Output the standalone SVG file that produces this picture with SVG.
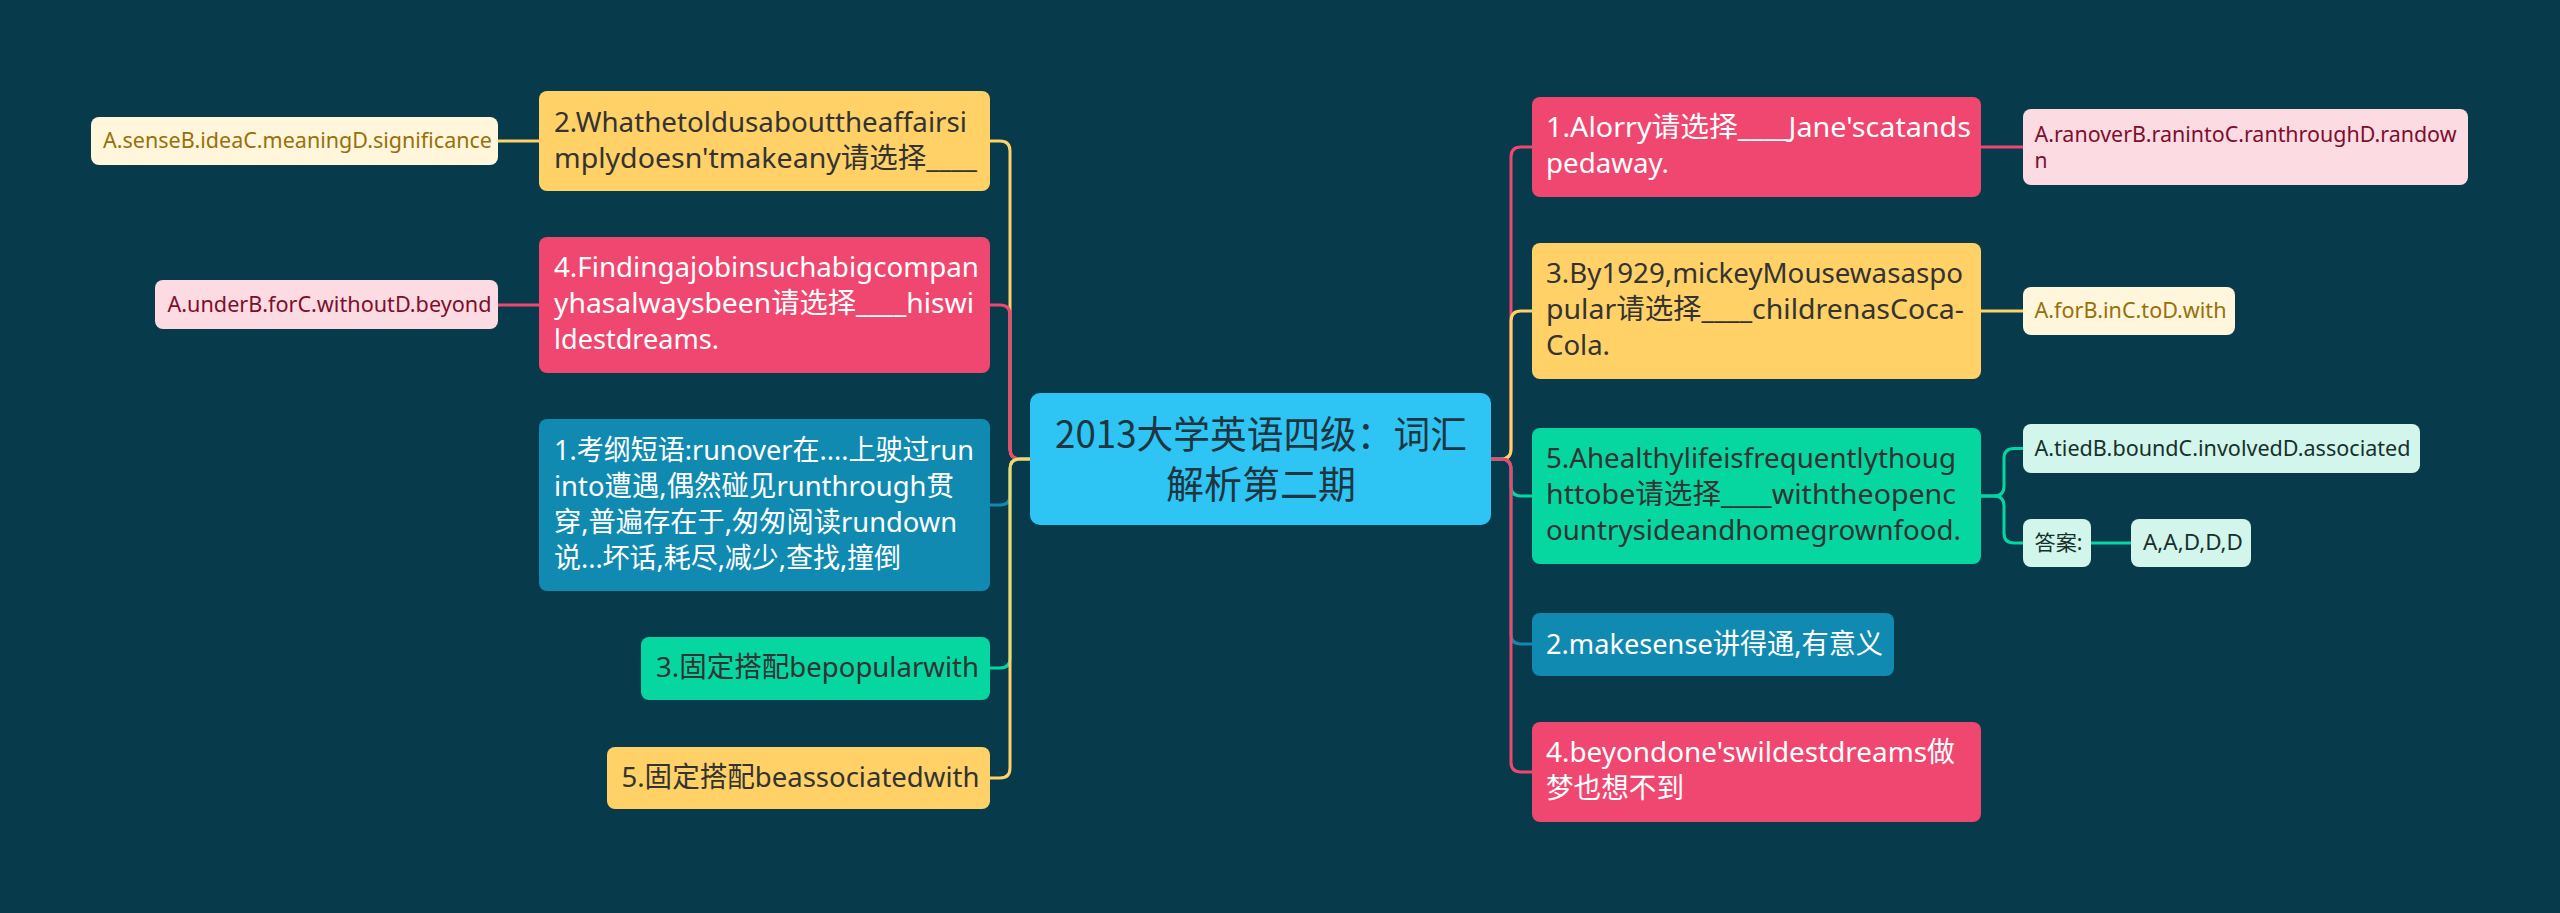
<svg xmlns="http://www.w3.org/2000/svg" width="2560" height="913" viewBox="0 0 2560 913">
<style>
.t{font-family:"Noto Sans","Noto Sans CJK SC",sans-serif;font-size:28px}
.s{font-family:"Noto Sans","Noto Sans CJK SC",sans-serif;font-size:21px}
.c{font-family:"Noto Sans CJK SC","Noto Sans",sans-serif;font-size:38px;fill:#1f3540}
.w{fill:#ffffff}
.d{fill:#333333}
.ln{fill:none;stroke-width:3;stroke-linecap:round}
.yl{stroke:#ffd166}.rd{stroke:#ef476f}.bl{stroke:#118ab2}.gr{stroke:#06d6a0}
.fy{fill:#ffd166}.fr{fill:#ef476f}.fb{fill:#118ab2}.fg{fill:#06d6a0}
.py{fill:#fff6dc}.pr{fill:#fcdbe3}.pg{fill:#d2f6ec}
.ty{fill:#98700a}.tr{fill:#7d0f2c}.tg{fill:#17302c}
</style>
<rect width="2560" height="913" fill="#073b4c"/>
<g id="connectors">
<path class="ln yl" d="M1030,459 H1020 Q1010,459 1010,449 V151 Q1010,141 1000,141 H990"/>
<path class="ln rd" d="M1030,459 H1020 Q1010,459 1010,449 V315 Q1010,305 1000,305 H990"/>
<path class="ln bl" d="M1030,459 H1020 Q1010,459 1010,469 V495 Q1010,505 1000,505 H990"/>
<path class="ln gr" d="M1030,459 H1020 Q1010,459 1010,469 V658 Q1010,668 1000,668 H990"/>
<path class="ln yl" d="M1030,459 H1020 Q1010,459 1010,469 V768 Q1010,778 1000,778 H990"/>
<path class="ln rd" d="M1491,459 H1501 Q1511,459 1511,449 V157 Q1511,147 1521,147 H1532"/>
<path class="ln yl" d="M1491,459 H1501 Q1511,459 1511,449 V321 Q1511,311 1521,311 H1532"/>
<path class="ln gr" d="M1491,459 H1501 Q1511,459 1511,469 V486 Q1511,496 1521,496 H1532"/>
<path class="ln bl" d="M1491,459 H1501 Q1511,459 1511,469 V634 Q1511,644 1521,644 H1532"/>
<path class="ln rd" d="M1491,459 H1501 Q1511,459 1511,469 V762 Q1511,772 1521,772 H1532"/>
<path class="ln yl" d="M539,141 H498"/>
<path class="ln rd" d="M539,305 H498"/>
<path class="ln rd" d="M1981,147 H2023"/>
<path class="ln yl" d="M1981,311 H2023"/>
<path class="ln gr" d="M1981,496 H1994 Q2004,496 2004,486 V458.5 Q2004,448.5 2014,448.5 H2023"/>
<path class="ln gr" d="M1981,496 H1994 Q2004,496 2004,506 V533 Q2004,543 2014,543 H2023"/>
<path class="ln gr" d="M2091,543 H2131"/>
</g>
<g id="center">
<rect x="1030" y="393" width="461" height="132" rx="10" fill="#2ec4f3"/>
<text class="c" x="1261" y="448" text-anchor="middle" textLength="412" lengthAdjust="spacingAndGlyphs">2013大学英语四级：词汇</text>
<text class="c" x="1261" y="498" text-anchor="middle">解析第二期</text>
</g>
<g id="L2">
<rect x="539" y="91" width="451" height="100" rx="8" class="fy"/>
<text class="t d" x="554" y="132" textLength="413" lengthAdjust="spacingAndGlyphs">2.Whathetoldusabouttheaffairsi</text>
<text class="t d" x="554" y="168" textLength="423" lengthAdjust="spacingAndGlyphs">mplydoesn'tmakeany请选择____</text>
</g>
<g id="L2a">
<rect x="91" y="117" width="407" height="48" rx="8" class="py"/>
<text class="s ty" x="103" y="148" textLength="389" lengthAdjust="spacingAndGlyphs">A.senseB.ideaC.meaningD.significance</text>
</g>
<g id="L4">
<rect x="539" y="237" width="451" height="136" rx="8" class="fr"/>
<text class="t w" x="554" y="277" textLength="425" lengthAdjust="spacingAndGlyphs">4.Findingajobinsuchabigcompan</text>
<text class="t w" x="554" y="313" textLength="420" lengthAdjust="spacingAndGlyphs">yhasalwaysbeen请选择____hiswi</text>
<text class="t w" x="554" y="349" textLength="165" lengthAdjust="spacingAndGlyphs">ldestdreams.</text>
</g>
<g id="L4a">
<rect x="155" y="280" width="343" height="49" rx="8" class="pr"/>
<text class="s tr" x="167.5" y="312" textLength="324" lengthAdjust="spacingAndGlyphs">A.underB.forC.withoutD.beyond</text>
</g>
<g id="L1">
<rect x="539" y="419" width="451" height="172" rx="8" class="fb"/>
<text class="t w" x="554" y="460" textLength="420" lengthAdjust="spacingAndGlyphs">1.考纲短语:runover在....上驶过run</text>
<text class="t w" x="554" y="496" textLength="400" lengthAdjust="spacingAndGlyphs">into遭遇,偶然碰见runthrough贯</text>
<text class="t w" x="554" y="532" textLength="403" lengthAdjust="spacingAndGlyphs">穿,普遍存在于,匆匆阅读rundown</text>
<text class="t w" x="554" y="568" textLength="347" lengthAdjust="spacingAndGlyphs">说...坏话,耗尽,减少,查找,撞倒</text>
</g>
<g id="L3">
<rect x="641" y="637" width="349" height="63" rx="8" class="fg"/>
<text class="t d" x="656" y="677" textLength="323" lengthAdjust="spacingAndGlyphs">3.固定搭配bepopularwith</text>
</g>
<g id="L5">
<rect x="607" y="747" width="383" height="62" rx="8" class="fy"/>
<text class="t d" x="621.5" y="787" textLength="358" lengthAdjust="spacingAndGlyphs">5.固定搭配beassociatedwith</text>
</g>
<g id="R1">
<rect x="1532" y="97" width="449" height="100" rx="8" class="fr"/>
<text class="t w" x="1546" y="137" textLength="425" lengthAdjust="spacingAndGlyphs">1.Alorry请选择____Jane'scatands</text>
<text class="t w" x="1546" y="173" textLength="123" lengthAdjust="spacingAndGlyphs">pedaway.</text>
</g>
<g id="R1a">
<rect x="2023" y="109" width="445" height="76" rx="8" class="pr"/>
<text class="s tr" x="2034.5" y="142" textLength="422" lengthAdjust="spacingAndGlyphs">A.ranoverB.ranintoC.ranthroughD.randow</text>
<text class="s tr" x="2034.5" y="168">n</text>
</g>
<g id="R3">
<rect x="1532" y="243" width="449" height="136" rx="8" class="fy"/>
<text class="t d" x="1546" y="283" textLength="417" lengthAdjust="spacingAndGlyphs">3.By1929,mickeyMousewasaspo</text>
<text class="t d" x="1546" y="319" textLength="418" lengthAdjust="spacingAndGlyphs">pular请选择____childrenasCoca-</text>
<text class="t d" x="1546" y="355" textLength="64" lengthAdjust="spacingAndGlyphs">Cola.</text>
</g>
<g id="R3a">
<rect x="2023" y="287" width="212" height="48" rx="8" class="py"/>
<text class="s ty" x="2034.5" y="318" textLength="192" lengthAdjust="spacingAndGlyphs">A.forB.inC.toD.with</text>
</g>
<g id="R5">
<rect x="1532" y="428" width="449" height="136" rx="8" class="fg"/>
<text class="t d" x="1546" y="468" textLength="410" lengthAdjust="spacingAndGlyphs">5.Ahealthylifeisfrequentlythoug</text>
<text class="t d" x="1546" y="504" textLength="410" lengthAdjust="spacingAndGlyphs">httobe请选择____withtheopenc</text>
<text class="t d" x="1546" y="540" textLength="415" lengthAdjust="spacingAndGlyphs">ountrysideandhomegrownfood.</text>
</g>
<g id="R5a">
<rect x="2023" y="424" width="397" height="49" rx="8" class="pg"/>
<text class="s tg" x="2034.5" y="456" textLength="376" lengthAdjust="spacingAndGlyphs">A.tiedB.boundC.involvedD.associated</text>
</g>
<g id="R5b">
<rect x="2023" y="519" width="68" height="48" rx="8" class="pg"/>
<text class="s tg" x="2034.5" y="550" textLength="48" lengthAdjust="spacingAndGlyphs">答案:</text>
</g>
<g id="R5c">
<rect x="2131" y="519" width="120" height="48" rx="8" class="pg"/>
<text class="s tg" x="2143" y="550" textLength="100" lengthAdjust="spacingAndGlyphs">A,A,D,D,D</text>
</g>
<g id="R2">
<rect x="1532" y="613" width="362" height="63" rx="8" class="fb"/>
<text class="t w" x="1546" y="654" textLength="337" lengthAdjust="spacingAndGlyphs">2.makesense讲得通,有意义</text>
</g>
<g id="R4">
<rect x="1532" y="722" width="449" height="100" rx="8" class="fr"/>
<text class="t w" x="1546" y="762" textLength="409" lengthAdjust="spacingAndGlyphs">4.beyondone'swildestdreams做</text>
<text class="t w" x="1546" y="798" textLength="138" lengthAdjust="spacingAndGlyphs">梦也想不到</text>
</g>
</svg>
